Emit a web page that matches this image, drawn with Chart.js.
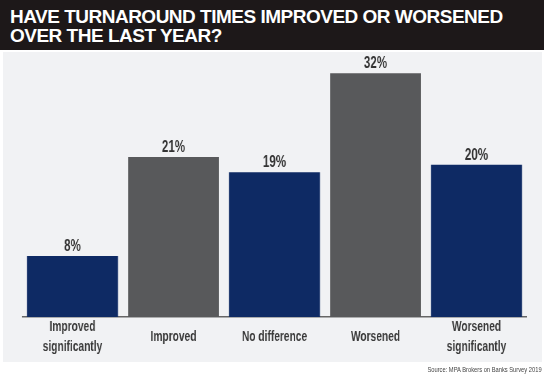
<!DOCTYPE html>
<html>
<head>
<meta charset="utf-8">
<script src="https://cdn.jsdelivr.net/npm/chart.js@4/dist/chart.umd.min.js"></script>
<style>
  html, body { margin: 0; padding: 0; background: #fff; }
  #wrap { position: relative; width: 555px; height: 380px; overflow: hidden; }
  #header {
    position: absolute; left: 0; top: 0; width: 544px; height: 50px;
    background: #1d1819;
  }
  #header h1 {
    margin: 0; position: absolute; left: 10px; top: 7px;
    font-family: "Liberation Sans", Arial, sans-serif; font-weight: bold;
    font-size: 19px; line-height: 19px; letter-spacing: -0.5px; color: #fff;
  }
  #panel {
    position: absolute; left: 3px; top: 52px; width: 539px; height: 310px;
    background: #f1f2f4;
  }
  #source {
    position: absolute; right: 13px; top: 365px;
    font-family: "Liberation Sans", Arial, sans-serif;
    font-size: 8px; color: #444; white-space: nowrap;
    transform: scaleX(0.72); transform-origin: right center;
  }
  /* the canvas is drawn wider than shown, so its text comes out condensed */
  #chart { position: absolute; left: 0; top: 0; width: 555px; height: 380px; }
</style>
</head>
<body>
<div id="wrap">
  <div id="header"><h1>HAVE TURNAROUND TIMES IMPROVED OR WORSENED<br>OVER THE LAST YEAR?</h1></div>
  <div id="panel"></div>
  <canvas id="chart" width="816" height="380" style="width:555px;height:380px"></canvas>
  <div id="source">Source: MPA Brokers on Banks Survey 2019</div>
</div>
<script>
"use strict";

// ---------- Data ----------
const categories = [
  ["Improved", "significantly"],
  "Improved",
  "No difference",
  "Worsened",
  ["Worsened", "significantly"]
];
const values = [8, 21, 19, 32, 20];
const valueLabels = ["8%", "21%", "19%", "32%", "20%"];

const NAVY = "#0e2a64";
const GREY = "#58595b";
const barColors = [NAVY, GREY, NAVY, GREY, NAVY];

// horizontal squeeze of the canvas (shown width / drawn width)
const SQUEEZE = 555 / 816;
const FONT = "'Liberation Sans', Arial, sans-serif";

// ---------- Value labels above bars ----------
const valueLabelPlugin = {
  id: "valueLabels",
  afterDatasetsDraw(chart) {
    const ctx = chart.ctx;
    const meta = chart.getDatasetMeta(0);
    ctx.save();
    ctx.font = "bold 17px " + FONT;
    ctx.fillStyle = "#333";
    ctx.textAlign = "center";
    ctx.textBaseline = "alphabetic";
    meta.data.forEach((bar, i) => {
      ctx.fillText(valueLabels[i], bar.x, bar.y - 5);
    });
    ctx.restore();
  }
};

// ---------- Chart ----------
new Chart(document.getElementById("chart"), {
  type: "bar",
  data: {
    labels: categories,
    datasets: [{
      data: values,
      backgroundColor: barColors,
      borderWidth: 0,
      barPercentage: 0.9,
      categoryPercentage: 1
    }]
  },
  options: {
    responsive: false,
    animation: false,
    devicePixelRatio: 1,
    layout: { padding: { left: 22 / SQUEEZE, right: 28 / SQUEEZE, top: 58, bottom: 18 } },
    plugins: {
      legend: { display: false },
      tooltip: { enabled: false },
      title: { display: false }
    },
    scales: {
      x: {
        grid: { display: false, drawTicks: false },
        border: { display: true, color: "#666", width: 1.5 },
        ticks: {
          padding: 10,
          crossAlign: "center",
          color: "#3a3a3a",
          font: { family: FONT, size: 15, weight: "bold", lineHeight: 20 / 15 }
        },
        afterFit(scale) { scale.height = 45; }
      },
      y: {
        display: false,
        min: 0,
        max: 34
      }
    }
  },
  plugins: [valueLabelPlugin]
});
</script>
</body>
</html>
